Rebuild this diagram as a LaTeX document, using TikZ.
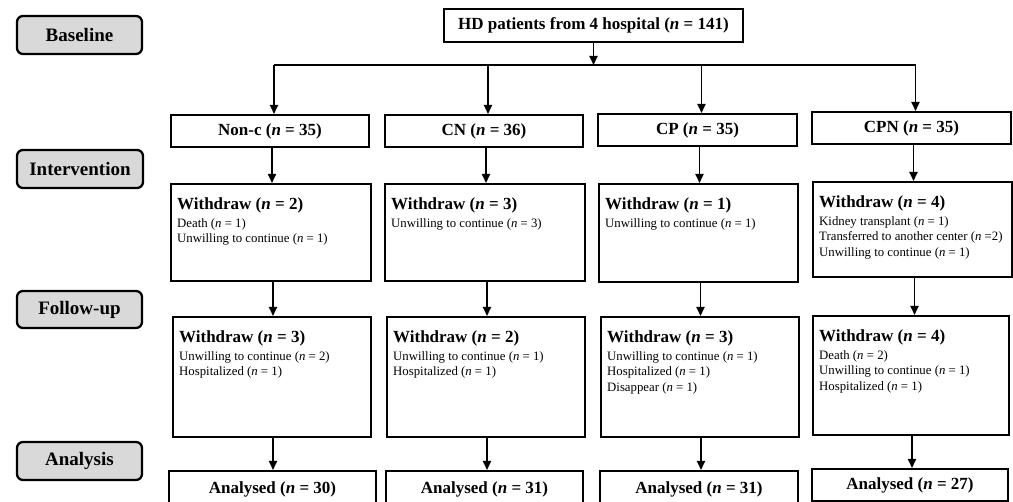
\documentclass[tikz,border=0pt]{standalone}
\usepackage{fontspec}
\setmainfont{Liberation Serif}
\usetikzlibrary{arrows.meta}
\newcommand\wbox[7]{%
  \node[wbx, minimum width=#4pt, minimum height=#5pt, anchor=north west] (#1) at (#2,#3) {};
  \node[whead] (#1h) at ([xshift=7pt,yshift=-27pt]#1.north west) {Withdraw (\textit{n} = #6)};
  \node[wreason] (#1r) at ([xshift=7pt,yshift=-35pt]#1.north west) {#7};
}
\begin{document}
\begin{tikzpicture}[x=1pt,y=-1pt,
  stage/.style={draw, line width=2.3pt, fill=black!15, rounded corners=6pt, inner sep=0pt,
    font=\fontsize{19}{22}\selectfont\bfseries},
  grp/.style={draw, line width=2pt, fill=white, inner sep=0pt,
    font=\fontsize{17}{20}\selectfont\bfseries},
  wbx/.style={draw, line width=2pt, fill=white, inner sep=0pt},
  whead/.style={inner sep=0pt, anchor=base west, font=\fontsize{17}{20}\selectfont\bfseries},
  wreason/.style={inner sep=0pt, anchor=north west, align=left,
    font=\fontsize{12.8}{15.5}\selectfont},
  arr/.style={line width=1.8pt, -{Triangle[length=9pt,width=8pt]}},
  conn/.style={line width=1.8pt},
]
\clip (0,0) rectangle (1013,502);
\fill[white] (0,0) rectangle (1013,502);

% stage labels
\node[stage, minimum width=125pt, minimum height=38pt] (sBase) at (79.5,35) {Baseline};
\node[stage, minimum width=126pt, minimum height=38pt] (sInt) at (80,169) {Intervention};
\node[stage, minimum width=125pt, minimum height=37pt] (sFol) at (79.5,309.5) {Follow-up};
\node[stage, minimum width=125pt, minimum height=38pt] (sAna) at (79.5,461) {Analysis};

% top
\node[grp, minimum width=299pt, minimum height=33pt] (hd) at (593.5,25.5) {HD patients from 4 hospital (\textit{n} = 141)};

% groups
\node[grp, minimum width=198pt, minimum height=32pt] (nonc) at (270,131) {Non-c (\textit{n} = 35)};
\node[grp, minimum width=198pt, minimum height=32pt] (cn) at (484,131) {CN (\textit{n} = 36)};
\node[grp, minimum width=199pt, minimum height=32pt] (cp) at (697.5,130) {CP (\textit{n} = 35)};
\node[grp, minimum width=199pt, minimum height=32pt] (cpn) at (911.5,128) {CPN (\textit{n} = 35)};

% intervention withdrawals
\wbox{wa1}{170}{183}{200}{97}{2}{Death (\textit{n} = 1)\\Unwilling to continue (\textit{n} = 1)}
\wbox{wa2}{384}{183}{200}{97}{3}{Unwilling to continue (\textit{n} = 3)}
\wbox{wa3}{598}{183}{199}{98}{1}{Unwilling to continue (\textit{n} = 1)}
\wbox{wa4}{812}{181}{199}{95}{4}{Kidney transplant (\textit{n} = 1)\\Transferred to another center (\textit{n} =2)\\Unwilling to continue (\textit{n} = 1)}

% follow-up withdrawals
\wbox{wb1}{172}{316}{198}{120}{3}{Unwilling to continue (\textit{n} = 2)\\Hospitalized (\textit{n} = 1)}
\wbox{wb2}{386}{316}{198}{120}{2}{Unwilling to continue (\textit{n} = 1)\\Hospitalized (\textit{n} = 1)}
\wbox{wb3}{600}{316}{198}{120}{3}{Unwilling to continue (\textit{n} = 1)\\Hospitalized (\textit{n} = 1)\\Disappear (\textit{n} = 1)}
\wbox{wb4}{812}{315}{196}{119}{4}{Death (\textit{n} = 2)\\Unwilling to continue (\textit{n} = 1)\\Hospitalized (\textit{n} = 1)}

% analysed
\node[grp, minimum width=207pt, minimum height=36pt] (an1) at (272.5,489) {Analysed (\textit{n} = 30)};
\node[grp, minimum width=197pt, minimum height=36pt] (an2) at (484.5,489) {Analysed (\textit{n} = 31)};
\node[grp, minimum width=198pt, minimum height=36pt] (an3) at (699,489) {Analysed (\textit{n} = 31)};
\node[grp, minimum width=196pt, minimum height=32pt] (an4) at (910,485) {Analysed (\textit{n} = 27)};

% connectors
\coordinate (split) at (594,65);
\coordinate (sl) at ([xshift=4pt]nonc.north |- split);
\coordinate (sr) at ([xshift=4pt]cpn.north |- split);
\draw[arr] (hd.south) -- (hd.south |- split);
\draw[conn] (sl) -- (sr);
\draw[arr] (sl) -- (sl |- nonc.north);
\draw[arr] ([xshift=4pt]cn.north |- split) -- ([xshift=4pt]cn.north);
\draw[arr] ([xshift=4pt]cp.north |- split) -- ([xshift=4pt]cp.north);
\draw[arr] (sr) -- (sr |- cpn.north);

\foreach \g/\a/\b/\c in {nonc/wa1/wb1/an1, cn/wa2/wb2/an2, cp/wa3/wb3/an3, cpn/wa4/wb4/an4}{
  \draw[arr] ([xshift=2pt]\g.south) -- ([xshift=2pt]\g.south |- \a.north);
  \draw[arr] ([xshift=2pt]\a.south) -- ([xshift=2pt]\a.south |- \b.north);
  \draw[arr] ([xshift=1pt]\b.south) -- ([xshift=1pt]\b.south |- \c.north);
}
\end{tikzpicture}
\end{document}
